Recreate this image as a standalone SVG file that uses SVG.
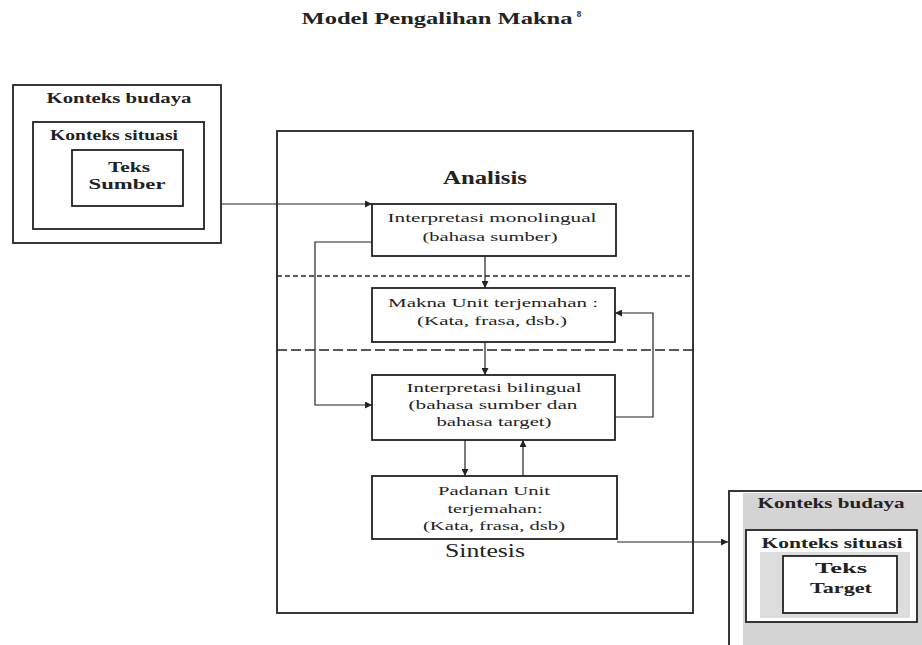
<svg xmlns="http://www.w3.org/2000/svg" width="922" height="645" viewBox="0 0 922 645">
<style>
text{font-family:"Liberation Serif","Times New Roman",serif;fill:#222;text-anchor:middle}
.b{font-weight:bold}
.box{fill:#fff;stroke:#222;stroke-width:1.8}
.c{fill:none;stroke:#222;stroke-width:1.2}
.t{font-size:13px}
.h{font-size:15px}
</style>
<defs>
<marker id="ah" viewBox="0 0 10 10" refX="10" refY="5" markerWidth="7" markerHeight="7" markerUnits="userSpaceOnUse" orient="auto">
<path d="M0,0L10,5L0,10z" fill="#222"/>
</marker>
</defs>
<rect width="922" height="645" fill="#fff"/>
<text class="b" x="437" y="24" font-size="16" textLength="271" lengthAdjust="spacingAndGlyphs">Model Pengalihan Makna</text><text class="b" x="579" y="17" font-size="9">8</text>

<g id="source-context">
<rect class="box" x="13" y="85" width="208" height="158"/>
<text class="b h" x="119" y="103" textLength="145" lengthAdjust="spacingAndGlyphs">Konteks budaya</text>
<rect class="box" x="33" y="122" width="171" height="107"/>
<text class="b h" x="114" y="140" textLength="128" lengthAdjust="spacingAndGlyphs">Konteks situasi</text>
<rect class="box" x="72" y="150" width="111" height="56"/>
<text class="b h" x="129" y="172" textLength="42" lengthAdjust="spacingAndGlyphs">Teks</text>
<text class="b h" x="127" y="189" textLength="77" lengthAdjust="spacingAndGlyphs">Sumber</text>
</g>

<g id="main-frame">
<rect class="box" x="277" y="131" width="416" height="482" fill="none"/>
<text class="b" x="485" y="184" font-size="18" textLength="84" lengthAdjust="spacingAndGlyphs">Analisis</text>
<text x="485" y="557" font-size="18" textLength="80" lengthAdjust="spacingAndGlyphs">Sintesis</text>
<line x1="277" y1="276" x2="693" y2="276" stroke="#222" stroke-width="1.3" stroke-dasharray="5,3"/>
<line x1="277" y1="350" x2="693" y2="350" stroke="#222" stroke-width="1.3" stroke-dasharray="10,4"/>
</g>

<g id="connectors">
<line class="c" x1="221" y1="204" x2="372" y2="204" stroke="#555" marker-end="url(#ah)"/>
<line class="c" x1="485" y1="256" x2="485" y2="288" marker-end="url(#ah)"/>
<line class="c" x1="485" y1="342" x2="485" y2="375" marker-end="url(#ah)"/>
<polyline class="c" points="372,242 315,242 315,405 372,405" marker-end="url(#ah)"/>
<polyline class="c" points="615,417 653,417 653,313 615,313" marker-end="url(#ah)"/>
<line class="c" x1="465" y1="440" x2="465" y2="476" marker-end="url(#ah)"/>
<line class="c" x1="523" y1="476" x2="523" y2="440" marker-end="url(#ah)"/>
<line class="c" x1="617" y1="542" x2="728" y2="542" marker-end="url(#ah)"/>
</g>

<g id="interpretasi-monolingual">
<rect class="box" x="372" y="204" width="244" height="52"/>
<text class="t" x="492" y="222" textLength="209" lengthAdjust="spacingAndGlyphs">Interpretasi monolingual</text>
<text class="t" x="490" y="241" textLength="135" lengthAdjust="spacingAndGlyphs">(bahasa sumber)</text>
</g>

<g id="makna-unit">
<rect class="box" x="372" y="288" width="243" height="54"/>
<text class="t" x="493" y="307" textLength="210" lengthAdjust="spacingAndGlyphs">Makna Unit terjemahan :</text>
<text class="t" x="492" y="325" textLength="150" lengthAdjust="spacingAndGlyphs">(Kata, frasa, dsb.)</text>
</g>

<g id="interpretasi-bilingual">
<rect class="box" x="372" y="375" width="243" height="65"/>
<text class="t" x="494" y="392" textLength="175" lengthAdjust="spacingAndGlyphs">Interpretasi bilingual</text>
<text class="t" x="493" y="409" textLength="169" lengthAdjust="spacingAndGlyphs">(bahasa sumber dan</text>
<text class="t" x="494" y="426" textLength="115" lengthAdjust="spacingAndGlyphs">bahasa target)</text>
</g>

<g id="padanan-unit">
<rect class="box" x="372" y="476" width="245" height="63"/>
<text class="t" x="494" y="495" textLength="112" lengthAdjust="spacingAndGlyphs">Padanan Unit</text>
<text class="t" x="495" y="513" textLength="95" lengthAdjust="spacingAndGlyphs">terjemahan:</text>
<text class="t" x="494" y="530" textLength="142" lengthAdjust="spacingAndGlyphs">(Kata, frasa, dsb)</text>
</g>

<g id="target-context">
<rect class="box" x="729" y="491" width="200" height="170"/>
<rect x="743" y="493" width="179" height="152" fill="#d4d4d4"/>
<text class="b h" x="831" y="508" textLength="147" lengthAdjust="spacingAndGlyphs">Konteks budaya</text>
<rect class="box" x="746" y="530" width="171" height="92"/>
<rect x="760" y="552" width="150" height="66" fill="#dcdcdc"/>
<text class="b h" x="832" y="548" textLength="141" lengthAdjust="spacingAndGlyphs">Konteks situasi</text>
<rect class="box" x="783" y="556" width="114" height="57"/>
<text class="b h" x="841" y="573" textLength="52" lengthAdjust="spacingAndGlyphs">Teks</text>
<text class="b h" x="841" y="593" textLength="62" lengthAdjust="spacingAndGlyphs">Target</text>
</g>
</svg>
